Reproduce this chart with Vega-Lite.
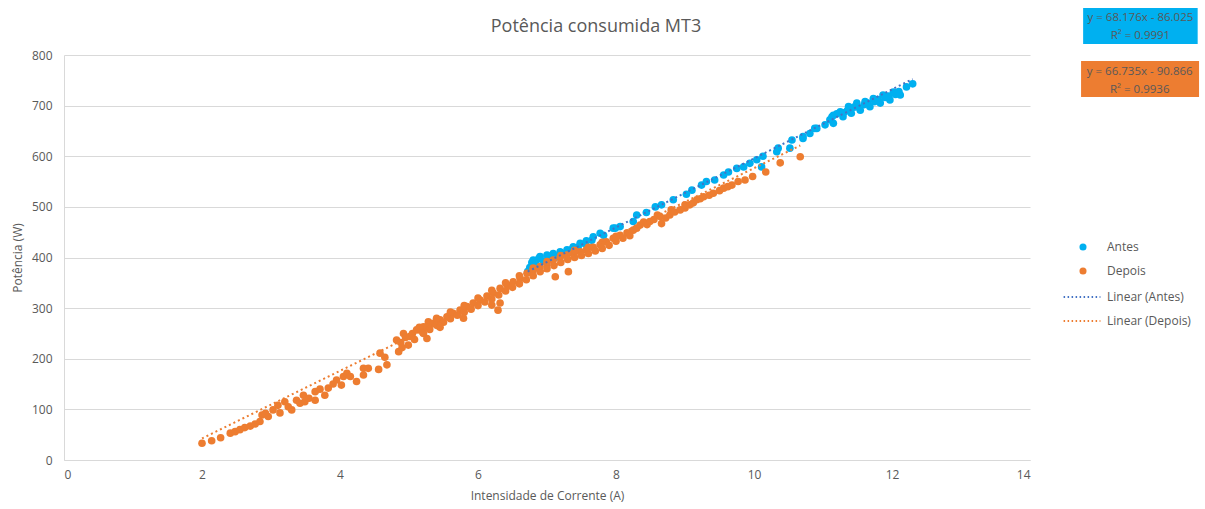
{
  "$schema": "https://vega.github.io/schema/vega-lite/v6.json",
  "autosize": {"type": "none"},
  "width": 966,
  "height": 405,
  "padding": {"left": 64, "top": 55, "right": 175, "bottom": 49},
  "background": "white",
  "config": {
    "view": {"stroke": null},
    "font": "Open Sans",
    "axis": {"labelColor": "#595959", "titleColor": "#595959", "labelFontSize": 12, "titleFontSize": 12, "titleFontWeight": "normal", "ticks": false, "domainColor": "#d9d9d9", "gridColor": "#d9d9d9", "labelFont": "Open Sans", "titleFont": "Open Sans"},
    "legend": {"labelColor": "#595959", "labelFontSize": 12, "labelFont": "Open Sans", "padding": 0}
  },
  "title": {"text": "Potência consumida MT3", "fontSize": 18, "fontWeight": "normal", "color": "#595959", "font": "Open Sans", "anchor": "middle", "dx": 49, "offset": 0, "dy": 28},
  "datasets": {
    "pts": [
      {"s":"Antes","x":6.72,"y":372},{"s":"Antes","x":6.75,"y":380},{"s":"Antes","x":6.78,"y":390},{"s":"Antes","x":6.80,"y":395},{"s":"Antes","x":6.82,"y":383},{"s":"Antes","x":6.85,"y":385},{"s":"Antes","x":6.88,"y":398},{"s":"Antes","x":6.90,"y":402},{"s":"Antes","x":6.95,"y":393},{"s":"Antes","x":7.00,"y":405},{"s":"Antes","x":7.05,"y":398},{"s":"Antes","x":7.09,"y":408},{"s":"Antes","x":7.12,"y":400},{"s":"Antes","x":7.15,"y":402},{"s":"Antes","x":7.19,"y":411},{"s":"Antes","x":7.25,"y":408},{"s":"Antes","x":7.29,"y":415},{"s":"Antes","x":7.35,"y":415},{"s":"Antes","x":7.38,"y":421},{"s":"Antes","x":7.45,"y":420},{"s":"Antes","x":7.48,"y":428},{"s":"Antes","x":7.55,"y":427},{"s":"Antes","x":7.57,"y":433},{"s":"Antes","x":7.65,"y":434},{"s":"Antes","x":7.67,"y":441},{"s":"Antes","x":7.77,"y":448},{"s":"Antes","x":7.82,"y":444},{"s":"Antes","x":7.96,"y":458},{"s":"Antes","x":7.99,"y":458},{"s":"Antes","x":8.06,"y":461},{"s":"Antes","x":8.25,"y":471},{"s":"Antes","x":8.30,"y":484},{"s":"Antes","x":8.44,"y":489},{"s":"Antes","x":8.57,"y":500},{"s":"Antes","x":8.66,"y":504},{"s":"Antes","x":8.83,"y":514},{"s":"Antes","x":9.02,"y":525},{"s":"Antes","x":9.10,"y":533},{"s":"Antes","x":9.24,"y":543},{"s":"Antes","x":9.31,"y":550},{"s":"Antes","x":9.43,"y":553},{"s":"Antes","x":9.56,"y":563},{"s":"Antes","x":9.63,"y":569},{"s":"Antes","x":9.75,"y":576},{"s":"Antes","x":9.85,"y":579},{"s":"Antes","x":9.94,"y":586},{"s":"Antes","x":10.04,"y":593},{"s":"Antes","x":10.11,"y":579},{"s":"Antes","x":10.13,"y":600},{"s":"Antes","x":10.33,"y":609},{"s":"Antes","x":10.35,"y":616},{"s":"Antes","x":10.52,"y":616},{"s":"Antes","x":10.55,"y":632},{"s":"Antes","x":10.71,"y":635},{"s":"Antes","x":10.71,"y":639},{"s":"Antes","x":10.81,"y":645},{"s":"Antes","x":10.88,"y":655},{"s":"Antes","x":10.91,"y":655},{"s":"Antes","x":11.03,"y":662},{"s":"Antes","x":11.10,"y":672},{"s":"Antes","x":11.13,"y":678},{"s":"Antes","x":11.15,"y":665},{"s":"Antes","x":11.15,"y":681},{"s":"Antes","x":11.20,"y":684},{"s":"Antes","x":11.25,"y":688},{"s":"Antes","x":11.29,"y":678},{"s":"Antes","x":11.30,"y":686},{"s":"Antes","x":11.35,"y":690},{"s":"Antes","x":11.37,"y":698},{"s":"Antes","x":11.41,"y":685},{"s":"Antes","x":11.45,"y":697},{"s":"Antes","x":11.49,"y":705},{"s":"Antes","x":11.50,"y":698},{"s":"Antes","x":11.54,"y":691},{"s":"Antes","x":11.60,"y":702},{"s":"Antes","x":11.61,"y":708},{"s":"Antes","x":11.65,"y":705},{"s":"Antes","x":11.68,"y":698},{"s":"Antes","x":11.73,"y":714},{"s":"Antes","x":11.75,"y":708},{"s":"Antes","x":11.80,"y":712},{"s":"Antes","x":11.83,"y":705},{"s":"Antes","x":11.87,"y":721},{"s":"Antes","x":11.90,"y":716},{"s":"Antes","x":11.95,"y":719},{"s":"Antes","x":11.97,"y":711},{"s":"Antes","x":12.02,"y":727},{"s":"Antes","x":12.05,"y":722},{"s":"Antes","x":12.10,"y":728},{"s":"Antes","x":12.12,"y":721},{"s":"Antes","x":12.21,"y":737},{"s":"Antes","x":12.30,"y":743},
      {"s":"Depois","x":2.00,"y":33},{"s":"Depois","x":2.14,"y":38},{"s":"Depois","x":2.27,"y":44},{"s":"Depois","x":2.41,"y":53},{"s":"Depois","x":2.48,"y":56},{"s":"Depois","x":2.55,"y":60},{"s":"Depois","x":2.62,"y":64},{"s":"Depois","x":2.70,"y":67},{"s":"Depois","x":2.77,"y":71},{"s":"Depois","x":2.84,"y":76},{"s":"Depois","x":2.87,"y":89},{"s":"Depois","x":2.92,"y":92},{"s":"Depois","x":2.96,"y":86},{"s":"Depois","x":3.03,"y":99},{"s":"Depois","x":3.10,"y":108},{"s":"Depois","x":3.13,"y":93},{"s":"Depois","x":3.20,"y":115},{"s":"Depois","x":3.25,"y":105},{"s":"Depois","x":3.30,"y":99},{"s":"Depois","x":3.37,"y":118},{"s":"Depois","x":3.42,"y":112},{"s":"Depois","x":3.47,"y":128},{"s":"Depois","x":3.49,"y":115},{"s":"Depois","x":3.55,"y":122},{"s":"Depois","x":3.64,"y":118},{"s":"Depois","x":3.64,"y":135},{"s":"Depois","x":3.71,"y":140},{"s":"Depois","x":3.78,"y":128},{"s":"Depois","x":3.83,"y":142},{"s":"Depois","x":3.90,"y":150},{"s":"Depois","x":3.95,"y":158},{"s":"Depois","x":4.02,"y":148},{"s":"Depois","x":4.05,"y":165},{"s":"Depois","x":4.10,"y":171},{"s":"Depois","x":4.15,"y":165},{"s":"Depois","x":4.24,"y":155},{"s":"Depois","x":4.34,"y":181},{"s":"Depois","x":4.34,"y":168},{"s":"Depois","x":4.41,"y":181},{"s":"Depois","x":4.56,"y":179},{"s":"Depois","x":4.58,"y":211},{"s":"Depois","x":4.65,"y":203},{"s":"Depois","x":4.68,"y":188},{"s":"Depois","x":4.82,"y":237},{"s":"Depois","x":4.85,"y":214},{"s":"Depois","x":4.88,"y":232},{"s":"Depois","x":4.90,"y":222},{"s":"Depois","x":4.92,"y":250},{"s":"Depois","x":4.95,"y":242},{"s":"Depois","x":4.99,"y":227},{"s":"Depois","x":5.01,"y":244},{"s":"Depois","x":5.05,"y":250},{"s":"Depois","x":5.08,"y":238},{"s":"Depois","x":5.11,"y":257},{"s":"Depois","x":5.15,"y":262},{"s":"Depois","x":5.20,"y":252},{"s":"Depois","x":5.21,"y":263},{"s":"Depois","x":5.26,"y":240},{"s":"Depois","x":5.28,"y":273},
      {"s":"Depois","x":5.21,"y":250},{"s":"Depois","x":5.26,"y":263},{"s":"Depois","x":5.35,"y":270},{"s":"Depois","x":5.45,"y":277},{"s":"Depois","x":5.55,"y":283},{"s":"Depois","x":5.64,"y":290},{"s":"Depois","x":5.74,"y":296},{"s":"Depois","x":5.84,"y":303},{"s":"Depois","x":5.93,"y":310},{"s":"Depois","x":6.03,"y":316},{"s":"Depois","x":6.13,"y":324},{"s":"Depois","x":6.22,"y":330},{"s":"Depois","x":6.32,"y":339},{"s":"Depois","x":6.42,"y":346},{"s":"Depois","x":6.51,"y":352},{"s":"Depois","x":6.61,"y":359},{"s":"Depois","x":6.71,"y":369},{"s":"Depois","x":6.80,"y":375},{"s":"Depois","x":6.90,"y":382},{"s":"Depois","x":7.00,"y":388},{"s":"Depois","x":7.09,"y":395},{"s":"Depois","x":7.19,"y":400},{"s":"Depois","x":7.29,"y":405},{"s":"Depois","x":7.38,"y":408},{"s":"Depois","x":7.48,"y":411},{"s":"Depois","x":7.57,"y":415},{"s":"Depois","x":7.67,"y":420},{"s":"Depois","x":7.77,"y":425},{"s":"Depois","x":7.86,"y":431},{"s":"Depois","x":7.96,"y":438},{"s":"Depois","x":8.06,"y":444},{"s":"Depois","x":8.16,"y":449},{"s":"Depois","x":8.25,"y":454},
      {"s":"Depois","x":5.30,"y":258},{"s":"Depois","x":5.40,"y":266},{"s":"Depois","x":5.50,"y":272},{"s":"Depois","x":5.60,"y":279},{"s":"Depois","x":5.70,"y":286},{"s":"Depois","x":5.80,"y":292},{"s":"Depois","x":5.90,"y":298},{"s":"Depois","x":6.00,"y":305},{"s":"Depois","x":6.10,"y":312},{"s":"Depois","x":6.20,"y":318},{"s":"Depois","x":6.30,"y":326},{"s":"Depois","x":6.40,"y":334},{"s":"Depois","x":6.50,"y":341},{"s":"Depois","x":6.60,"y":348},{"s":"Depois","x":6.70,"y":356},{"s":"Depois","x":6.80,"y":364},{"s":"Depois","x":6.90,"y":372},{"s":"Depois","x":7.00,"y":378},{"s":"Depois","x":7.10,"y":384},{"s":"Depois","x":7.20,"y":390},{"s":"Depois","x":7.30,"y":396},{"s":"Depois","x":7.40,"y":400},{"s":"Depois","x":7.50,"y":404},{"s":"Depois","x":7.60,"y":408},{"s":"Depois","x":7.70,"y":413},{"s":"Depois","x":7.80,"y":418},{"s":"Depois","x":7.90,"y":424},{"s":"Depois","x":8.00,"y":432},{"s":"Depois","x":8.10,"y":438},{"s":"Depois","x":8.20,"y":443},
      {"s":"Depois","x":5.40,"y":280},{"s":"Depois","x":5.60,"y":292},{"s":"Depois","x":5.80,"y":305},{"s":"Depois","x":6.00,"y":320},{"s":"Depois","x":6.20,"y":335},{"s":"Depois","x":6.40,"y":350},{"s":"Depois","x":6.60,"y":364},{"s":"Depois","x":6.80,"y":379},{"s":"Depois","x":7.00,"y":392},{"s":"Depois","x":7.20,"y":404},{"s":"Depois","x":7.40,"y":414},{"s":"Depois","x":7.60,"y":420},{"s":"Depois","x":7.80,"y":430},{"s":"Depois","x":8.00,"y":442},
      {"s":"Depois","x":6.20,"y":306},{"s":"Depois","x":6.29,"y":296},{"s":"Depois","x":6.32,"y":310},{"s":"Depois","x":7.31,"y":372},{"s":"Depois","x":7.12,"y":362},{"s":"Depois","x":5.79,"y":280},{"s":"Depois","x":5.45,"y":262},
      {"s":"Depois","x":8.30,"y":458},{"s":"Depois","x":8.35,"y":464},{"s":"Depois","x":8.40,"y":470},{"s":"Depois","x":8.45,"y":465},{"s":"Depois","x":8.49,"y":471},{"s":"Depois","x":8.55,"y":475},{"s":"Depois","x":8.60,"y":484},{"s":"Depois","x":8.64,"y":481},{"s":"Depois","x":8.66,"y":467},{"s":"Depois","x":8.72,"y":478},{"s":"Depois","x":8.78,"y":484},{"s":"Depois","x":8.80,"y":494},{"s":"Depois","x":8.85,"y":490},{"s":"Depois","x":8.93,"y":494},{"s":"Depois","x":9.00,"y":498},{"s":"Depois","x":9.00,"y":504},{"s":"Depois","x":9.07,"y":504},{"s":"Depois","x":9.12,"y":508},{"s":"Depois","x":9.17,"y":514},{"s":"Depois","x":9.22,"y":516},{"s":"Depois","x":9.27,"y":520},{"s":"Depois","x":9.35,"y":523},{"s":"Depois","x":9.41,"y":527},{"s":"Depois","x":9.50,"y":532},{"s":"Depois","x":9.56,"y":537},{"s":"Depois","x":9.62,"y":540},{"s":"Depois","x":9.68,"y":543},{"s":"Depois","x":9.77,"y":550},{"s":"Depois","x":9.87,"y":553},{"s":"Depois","x":9.98,"y":560},{"s":"Depois","x":10.17,"y":569},{"s":"Depois","x":10.38,"y":587},{"s":"Depois","x":10.67,"y":599}
    ],
    "trend": [
      {"t":"Linear (Antes)","x":6.72,"y":372.1},{"t":"Linear (Antes)","x":12.30,"y":752.5},
      {"t":"Linear (Depois)","x":2.00,"y":42.6},{"t":"Linear (Depois)","x":10.67,"y":621.2}
    ],
    "eqA": [{"txt":"y = 68.176x - 86.025\nR² = 0.9991"}],
    "eqD": [{"txt":"y = 66.735x - 90.866\nR² = 0.9936"}]
  },
  "layer": [
    {
      "data": {"name": "pts"},
      "mark": {"type": "circle", "size": 58, "opacity": 1},
      "encoding": {
        "x": {"field": "x", "type": "quantitative", "scale": {"domain": [0, 14], "nice": false},
              "axis": {"values": [0,2,4,6,8,10,12,14], "format": "d", "grid": false, "title": "Intensidade de Corrente (A)", "labelPadding": 9, "titlePadding": 10}},
        "y": {"field": "y", "type": "quantitative", "scale": {"domain": [0, 800], "nice": false},
              "axis": {"values": [0,100,200,300,400,500,600,700,800], "format": "d", "grid": true, "title": "Potência (W)", "labelPadding": 12, "titlePadding": 7}},
        "color": {"field": "s", "type": "nominal", "scale": {"domain": ["Antes", "Depois"], "range": ["#00B0F0", "#ED7D31"]},
                  "legend": {"title": null, "orient": "none", "legendX": 1013, "legendY": 186, "symbolType": "circle", "symbolSize": 50, "rowPadding": 12, "labelOffset": 18}}
      }
    },
    {
      "data": {"name": "trend"},
      "mark": {"type": "line", "strokeDash": [2, 3], "strokeWidth": 2},
      "encoding": {
        "x": {"field": "x", "type": "quantitative"},
        "y": {"field": "y", "type": "quantitative"},
        "stroke": {"field": "t", "type": "nominal", "scale": {"domain": ["Linear (Antes)", "Linear (Depois)"], "range": ["#4472C4", "#ED7D31"]},
                   "legend": {"title": null, "orient": "none", "legendX": 1012, "legendY": 236, "symbolType": "M-4.6,0H4.6", "symbolSize": 64, "symbolDash": [1.5, 2.5], "symbolStrokeWidth": 2, "rowPadding": 12, "labelOffset": 19}}
      }
    },
    {
      "data": {"name": "eqA"},
      "mark": {"type": "rect", "fill": "#00B0F0"},
      "encoding": {"x": {"datum": 14.77}, "x2": {"datum": 16.43}, "y": {"datum": 892.8}, "y2": {"datum": 821.7}}
    },
    {
      "data": {"name": "eqA"},
      "mark": {"type": "text", "lineBreak": "\n", "lineHeight": 18, "fontSize": 11.5, "color": "#595959", "align": "center", "baseline": "top"},
      "encoding": {"x": {"datum": 15.60}, "y": {"datum": 884.9}, "text": {"field": "txt"}}
    },
    {
      "data": {"name": "eqD"},
      "mark": {"type": "rect", "fill": "#ED7D31"},
      "encoding": {"x": {"datum": 14.74}, "x2": {"datum": 16.45}, "y": {"datum": 788}, "y2": {"datum": 717}}
    },
    {
      "data": {"name": "eqD"},
      "mark": {"type": "text", "lineBreak": "\n", "lineHeight": 18, "fontSize": 11.5, "color": "#595959", "align": "center", "baseline": "top"},
      "encoding": {"x": {"datum": 15.59}, "y": {"datum": 778.2}, "text": {"field": "txt"}}
    }
  ]
}
